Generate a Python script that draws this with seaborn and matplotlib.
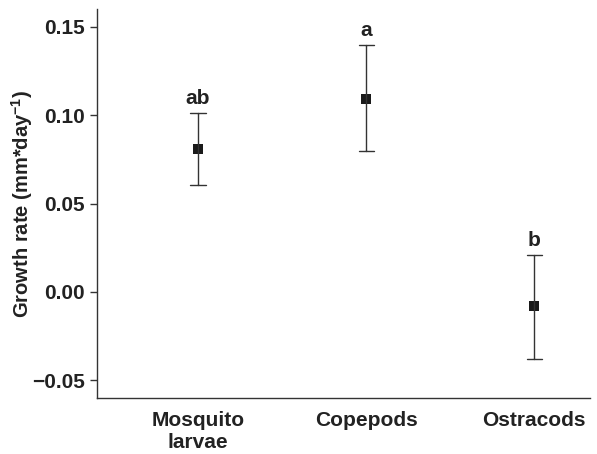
import numpy as np
import pandas as pd
import seaborn as sns
import matplotlib
matplotlib.use("Agg")
import matplotlib.pyplot as plt

# values
groups = ["Mosquito\nlarvae", "Copepods", "Ostracods"]
means = [0.081, 0.109, -0.008]
lower = [0.0605, 0.080, -0.0377]
upper = [0.1013, 0.1395, 0.0209]
letters = ["ab", "a", "b"]

# long table: low / mean / high per group, median = mean, min/max = bar ends
rows = []
for g, lo, m, hi in zip(groups, lower, means, upper):
    for v in (lo, m, hi):
        rows.append({"group": g, "rate": v})
df = pd.DataFrame(rows)

sns.set_style("ticks")
plt.rcParams["font.family"] = ["Liberation Sans", "DejaVu Sans"]
plt.rcParams["font.weight"] = "bold"
plt.rcParams["mathtext.fontset"] = "custom"
plt.rcParams["mathtext.rm"] = "Liberation Sans:bold"
plt.rcParams["mathtext.bf"] = "Liberation Sans:bold"

fig = plt.figure(figsize=(5.97, 4.54), dpi=100)
ax = fig.add_axes([0.1625, 0.1233, 0.8255, 0.8567])

sns.pointplot(data=df, x="group", y="rate", estimator=np.median,
              errorbar=lambda x: (x.min(), x.max()), linestyle="none",
              marker="s", markersize=7.5, markeredgewidth=0, color="#1a1a1a",
              capsize=0.09, err_kws={"linewidth": 1.0, "color": "#333333"},
              ax=ax)

for i, (lab, hi) in enumerate(zip(letters, upper)):
    ax.text(i, hi + 0.003, lab, ha="center", va="bottom",
            fontsize=15, fontweight="bold", color="#222222")

ax.set_xlim(-0.6, 2.33)
ax.set_ylim(-0.06, 0.16)
ax.set_yticks([-0.05, 0.0, 0.05, 0.10, 0.15])
ax.set_yticklabels(["\u22120.05", "0.00", "0.05", "0.10", "0.15"])
ax.set_xlabel("")
ax.set_ylabel(r"Growth rate (mm*day$^{-1}$)", fontsize=14.5,
              fontweight="bold", color="#222222", va="center")
ax.yaxis.set_label_coords(-0.152, 0.5)
ax.tick_params(axis="y", labelsize=15, length=5, width=1, colors="#333333",
               labelcolor="#222222")
ax.tick_params(axis="x", labelsize=15, length=0, pad=9, labelcolor="#222222")
for lab in ax.get_xticklabels() + ax.get_yticklabels():
    lab.set_fontweight("bold")

sns.despine(ax=ax, top=True, right=True)
for side in ["left", "bottom"]:
    ax.spines[side].set_color("#333333")
    ax.spines[side].set_linewidth(1.0)

fig.savefig("out.png", dpi=100)
